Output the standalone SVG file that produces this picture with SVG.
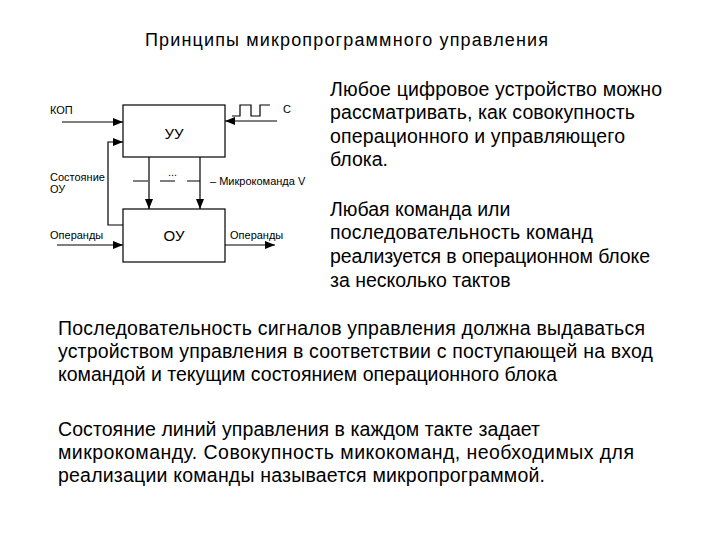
<svg xmlns="http://www.w3.org/2000/svg" width="720" height="540" viewBox="0 0 720 540">
<style>
text{font-family:"Liberation Sans",Arial,sans-serif;fill:#000}
.h{font-size:18px}
.t{font-size:19.5px}
.s{font-size:11px}
.b{font-size:15px}
.box{fill:#fff;stroke:#000;stroke-width:1.2}
.ln{fill:none;stroke:#000;stroke-width:1.2}
</style>
<defs>
<marker id="ah" markerUnits="userSpaceOnUse" markerWidth="10" markerHeight="8" refX="10" refY="4" orient="auto">
<path d="M0,0 L10,4 L0,8 z" fill="#000"/>
</marker>
</defs>
<rect width="720" height="540" fill="#fff"/>
<text class="h" x="145" y="46" textLength="403" lengthAdjust="spacing">Принципы микропрограммного управления</text>
<g id="connectors">
<path class="ln" d="M62,122 H123" marker-end="url(#ah)"/>
<path class="ln" d="M277,121 H225" marker-end="url(#ah)"/>
<path class="ln" d="M232,116 H240 V105 H251 V116 H260 V105 H270"/>
<path class="ln" d="M123,225 H108 V142 H123" marker-end="url(#ah)"/>
<path class="ln" d="M149,157 V209" marker-end="url(#ah)"/>
<path class="ln" d="M200,157 V209" marker-end="url(#ah)"/>
<path class="ln" d="M133,181 H200" stroke-dasharray="15,12" stroke-width="1"/>
<path class="ln" d="M57,245 H123" marker-end="url(#ah)"/>
<path class="ln" d="M225,245 H275" marker-end="url(#ah)"/>
</g>
<g id="uu">
<rect class="box" x="123" y="105" width="102" height="52"/>
<text class="b" x="174" y="139" text-anchor="middle">УУ</text>
</g>
<g id="ou">
<rect class="box" x="123" y="209" width="102" height="53"/>
<text class="b" x="174" y="241" text-anchor="middle">ОУ</text>
</g>
<g id="labels">
<text class="s" x="50" y="114">КОП</text>
<text class="s" x="283" y="113">С</text>
<text class="s" x="50" y="181">Состояние</text>
<text class="s" x="50" y="193">ОУ</text>
<text class="s" x="168" y="176">...</text>
<text class="s" x="210" y="185">– Микрокоманда V</text>
<text class="s" x="50" y="239">Операнды</text>
<text class="s" x="230" y="239">Операнды</text>
</g>
<g id="right-text">
<text class="t" x="330" y="96" textLength="332" lengthAdjust="spacing">Любое цифровое устройство можно</text>
<text class="t" x="330" y="119" textLength="305" lengthAdjust="spacing">рассматривать, как совокупность</text>
<text class="t" x="330" y="143" textLength="295" lengthAdjust="spacing">операционного и управляющего</text>
<text class="t" x="330" y="166">блока.</text>
<text class="t" x="330" y="216">Любая команда или</text>
<text class="t" x="330" y="239" textLength="263" lengthAdjust="spacing">последовательность команд</text>
<text class="t" x="330" y="263" textLength="320" lengthAdjust="spacing">реализуется в операционном блоке</text>
<text class="t" x="330" y="287">за несколько тактов</text>
</g>
<g id="bottom-text">
<text class="t" x="58" y="335" textLength="587" lengthAdjust="spacing">Последовательность сигналов управления должна выдаваться</text>
<text class="t" x="58" y="358" textLength="595" lengthAdjust="spacing">устройством управления в соответствии с поступающей на вход</text>
<text class="t" x="58" y="381" textLength="499" lengthAdjust="spacing">командой и текущим состоянием операционного блока</text>
<text class="t" x="58" y="436" textLength="482" lengthAdjust="spacing">Состояние линий управления в каждом такте задает</text>
<text class="t" x="58" y="459" textLength="576" lengthAdjust="spacing">микрокоманду. Совокупность микокоманд, необходимых для</text>
<text class="t" x="58" y="482" textLength="487" lengthAdjust="spacing">реализации команды называется микропрограммой.</text>
</g>
</svg>
